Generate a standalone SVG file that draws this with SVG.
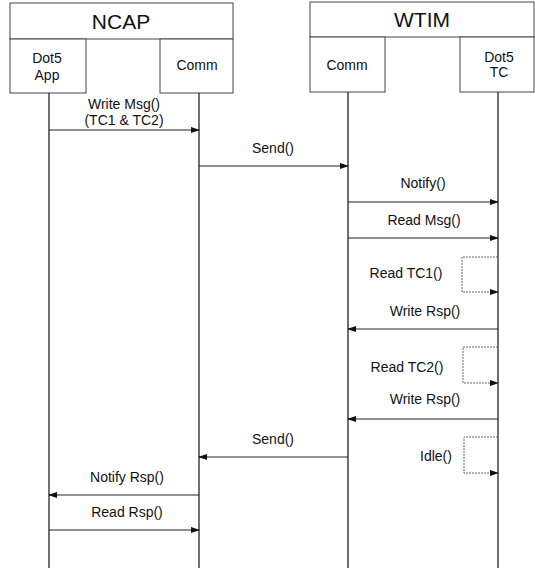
<svg xmlns="http://www.w3.org/2000/svg" width="535" height="568" viewBox="0 0 535 568">
<style>
text{font-family:"Liberation Sans",Arial,sans-serif;fill:#111;text-anchor:middle}
.hdr{font-size:21px}
.lbl{font-size:14px}
.sub{font-size:14px}
.box{fill:#fff;stroke:#444;stroke-width:1}
.life{stroke:#222;stroke-width:1.3;fill:none}
.msg{stroke:#222;stroke-width:1.1;fill:none;marker-end:url(#ah)}
.loop{stroke:#666;stroke-width:1;fill:none;stroke-dasharray:2 1;marker-end:url(#ah)}
</style>
<defs>
<marker id="ah" markerWidth="9" markerHeight="6" refX="8" refY="3" orient="auto" markerUnits="userSpaceOnUse">
<path d="M0,0 L9,3 L0,6 Z" fill="#111"/>
</marker>
</defs>
<rect width="535" height="568" fill="#fff"/>
<g id="ncap">
<rect class="box" x="10" y="3" width="223" height="36"/>
<text class="hdr" x="121" y="29">NCAP</text>
</g>
<g id="dot5app">
<rect class="box" x="10" y="39" width="76" height="54"/>
<text class="sub" x="47" y="63">Dot5</text>
<text class="sub" x="47" y="80">App</text>
</g>
<g id="ncapcomm">
<rect class="box" x="160" y="39" width="73" height="54"/>
<text class="sub" x="197" y="70">Comm</text>
</g>
<g id="wtim">
<rect class="box" x="310" y="2" width="224" height="35"/>
<text class="hdr" x="422" y="27">WTIM</text>
</g>
<g id="wtimcomm">
<rect class="box" x="310" y="37" width="75" height="55"/>
<text class="sub" x="347" y="70">Comm</text>
</g>
<g id="dot5tc">
<rect class="box" x="460" y="37" width="74" height="55"/>
<text class="sub" x="499" y="62">Dot5</text>
<text class="sub" x="499" y="77">TC</text>
</g>
<g id="connectors">
<line class="life" x1="49" y1="93" x2="49" y2="568"/>
<line class="life" x1="199" y1="93" x2="199" y2="568"/>
<line class="life" x1="348" y1="92" x2="348" y2="568"/>
<line class="life" x1="498" y1="92" x2="498" y2="568"/>

<line class="msg" x1="49" y1="130" x2="199" y2="130"/>
<text class="lbl" x="124" y="109">Write Msg()</text>
<text class="lbl" x="124" y="125">(TC1 &amp; TC2)</text>

<line class="msg" x1="199" y1="166" x2="348" y2="166"/>
<text class="lbl" x="273" y="153">Send()</text>

<line class="msg" x1="348" y1="202" x2="498" y2="202"/>
<text class="lbl" x="423" y="188">Notify()</text>

<line class="msg" x1="348" y1="238" x2="498" y2="238"/>
<text class="lbl" x="424" y="225">Read Msg()</text>

<polyline class="loop" points="498,257 462,257 462,292 498,292"/>
<text class="lbl" x="406" y="278">Read TC1()</text>

<line class="msg" x1="498" y1="329" x2="348" y2="329"/>
<text class="lbl" x="425" y="316">Write Rsp()</text>

<polyline class="loop" points="498,347 463,347 463,383 498,383"/>
<text class="lbl" x="407" y="372">Read TC2()</text>

<line class="msg" x1="498" y1="419" x2="348" y2="419"/>
<text class="lbl" x="425" y="404">Write Rsp()</text>

<line class="msg" x1="348" y1="457" x2="199" y2="457"/>
<text class="lbl" x="273" y="444">Send()</text>

<polyline class="loop" points="498,437 464,437 464,473 498,473"/>
<text class="lbl" x="436" y="461">Idle()</text>

<line class="msg" x1="199" y1="495" x2="49" y2="495"/>
<text class="lbl" x="127" y="482">Notify Rsp()</text>

<line class="msg" x1="49" y1="530" x2="199" y2="530"/>
<text class="lbl" x="127" y="517">Read Rsp()</text>
</g>
</svg>
